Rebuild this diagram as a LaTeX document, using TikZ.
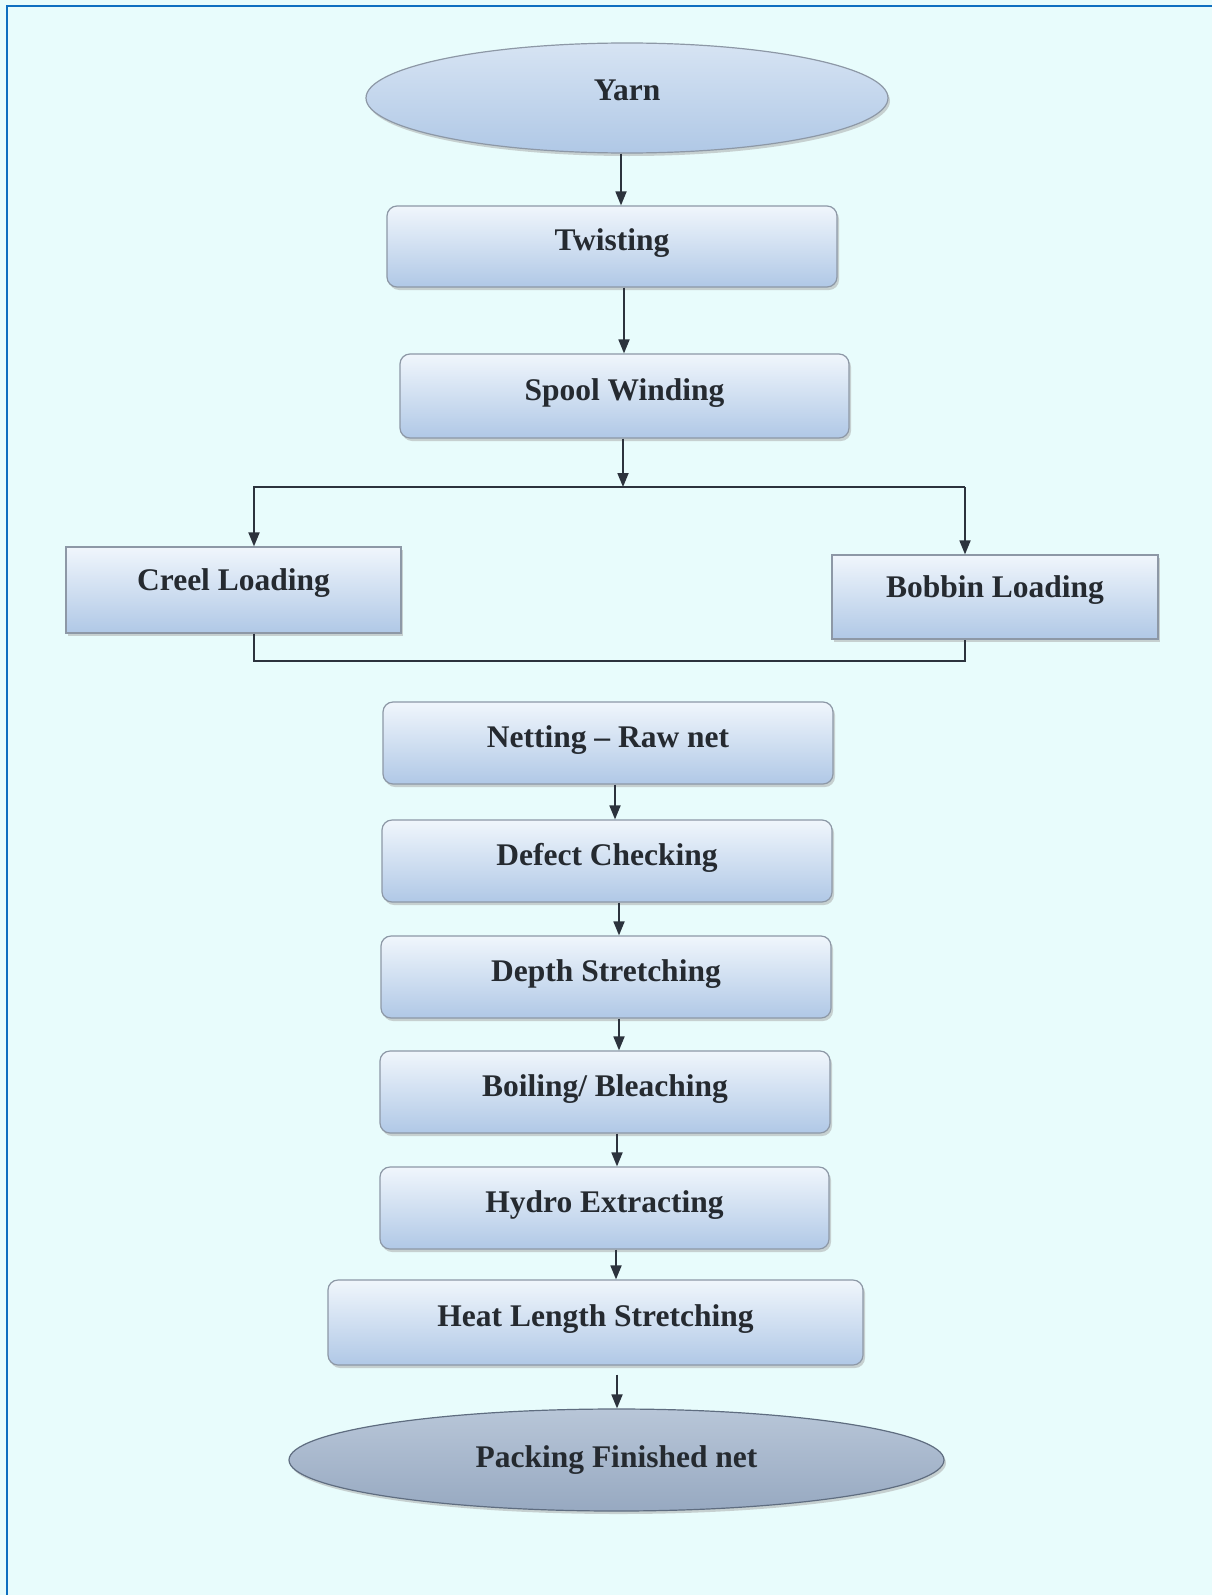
\documentclass[tikz,border=0pt]{standalone}
\usepackage{fontspec}
\setmainfont{Liberation Serif}
\usetikzlibrary{arrows.meta,shapes.geometric,shadows}
\definecolor{bgc}{HTML}{E8FCFC}
\definecolor{framec}{HTML}{0F6FC0}
\definecolor{linec}{HTML}{2C333D}
\definecolor{boxline}{HTML}{8D98A6}
\definecolor{boxtop}{HTML}{F0F6FC}
\definecolor{boxbot}{HTML}{B0C8E6}
\definecolor{txtc}{HTML}{252A30}
\definecolor{packtop}{HTML}{B8C6D8}
\definecolor{packbot}{HTML}{97A9C1}
\definecolor{packline}{HTML}{5F6D80}
\tikzset{
  basebox/.style={draw=boxline, line width=1.2pt, top color=boxtop, bottom color=boxbot,
    text=txtc, font=\bfseries\fontsize{31.5}{36}\selectfont, inner sep=0pt,
    drop shadow={shadow xshift=2pt, shadow yshift=-3pt, fill=gray!70, opacity=.5},
    text height=20.8pt, text depth=12pt},
  procbox/.style={basebox, rectangle, rounded corners=10pt},
  sqbox/.style={basebox, rectangle, text depth=20pt},
  oval/.style={basebox, ellipse},
  conn/.style={draw=linec, line width=1.8pt},
  arr/.style={conn, -{Triangle[length=14pt,width=11pt]}}
}
\begin{document}
\begin{tikzpicture}[x=1pt,y=-1pt]
\fill[bgc] (0,0) rectangle (1212,1595);
\useasboundingbox (0,0) rectangle (1212,1595);
\draw[framec, line width=2.4pt] (7,1595) -- (7,6) -- (1212,6);

\node[oval, minimum width=522pt, minimum height=110pt, top color=boxtop!60!boxbot, bottom color=boxbot, text depth=16pt] (yarn) at (627,98) {Yarn};
\node[procbox, minimum width=450pt, minimum height=81pt] (twist) at (612,246.5) {Twisting};
\node[procbox, minimum width=449pt, minimum height=84pt] (spool) at (624.5,396) {Spool Winding};
\node[sqbox, minimum width=335pt, minimum height=86pt] (creel) at (233.5,590) {Creel Loading};
\node[sqbox, minimum width=326pt, minimum height=84pt] (bobbin) at (995,597) {Bobbin Loading};
\node[procbox, minimum width=450pt, minimum height=82pt] (netting) at (608,743) {Netting -- Raw net};
\node[procbox, minimum width=450pt, minimum height=82pt] (defect) at (607,861) {Defect Checking};
\node[procbox, minimum width=450pt, minimum height=82pt] (depth) at (606,977) {Depth Stretching};
\node[procbox, minimum width=450pt, minimum height=82pt] (boil) at (605,1092) {Boiling/ Bleaching};
\node[procbox, minimum width=449pt, minimum height=82pt] (hydro) at (604.5,1208) {Hydro Extracting};
\node[procbox, minimum width=535pt, minimum height=85pt] (heat) at (595.5,1322.5) {Heat Length Stretching};
\node[oval, minimum width=655pt, minimum height=102pt, draw=packline, top color=packtop, bottom color=packbot, text depth=6pt] (pack) at (616.5,1460) {Packing Finished net};

\coordinate (c1) at (621,0);
\coordinate (c2) at (624,0);
\coordinate (sp) at (623,487);
\coordinate (spl) at (254,487);
\coordinate (spr) at (965,487);
\coordinate (ml) at (254,661);
\coordinate (mr) at (965,661);
\coordinate (c4) at (615,0);
\coordinate (c5) at (619,0);
\coordinate (c6) at (619,0);
\coordinate (c7) at (617,0);
\coordinate (c8) at (616,0);
\coordinate (c9) at (617,0);

\draw[arr] (yarn.south -| c1) -- (twist.north -| c1);
\draw[arr] (twist.south -| c2) -- (spool.north -| c2);
\draw[arr] (spool.south -| sp) -- (sp);
\draw[arr] (spr) -- (spl) -- (creel.north -| spl);
\draw[arr] (spr) -- (bobbin.north -| spr);
\draw[conn] (creel.south -| ml) -- (ml) -- (mr) -- (bobbin.south -| mr);
\draw[arr] (netting.south -| c4) -- (defect.north -| c4);
\draw[arr] (defect.south -| c5) -- (depth.north -| c5);
\draw[arr] (depth.south -| c6) -- (boil.north -| c6);
\draw[arr] (boil.south -| c7) -- (hydro.north -| c7);
\draw[arr] (hydro.south -| c8) -- (heat.north -| c8);
\draw[arr, shorten <=9pt] (heat.south -| c9) -- (pack.north -| c9);
\end{tikzpicture}
\end{document}
